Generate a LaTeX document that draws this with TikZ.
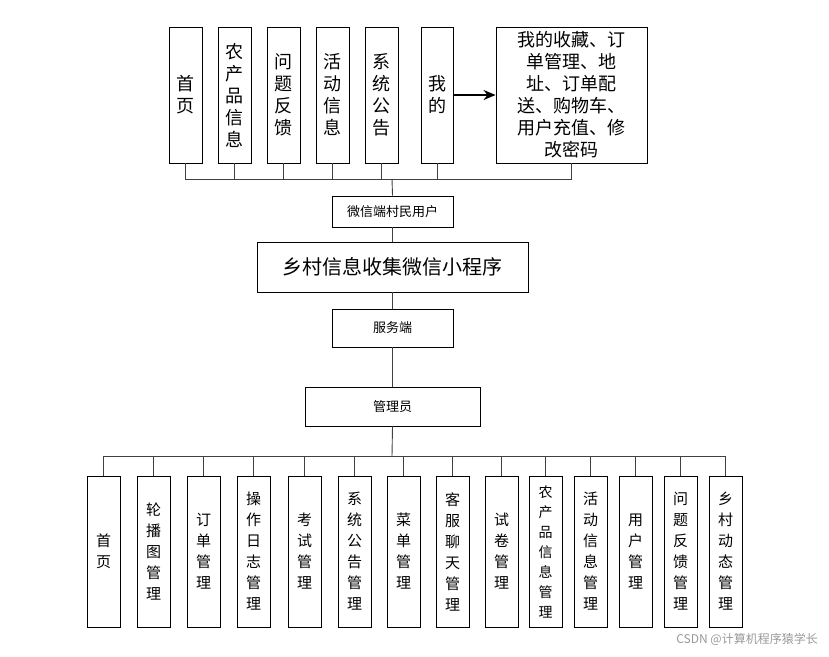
\documentclass[tikz,border=0pt]{standalone}
\usepackage{fontspec}
\setmainfont{Noto Sans CJK SC}
\usetikzlibrary{arrows.meta}
\tikzset{bx/.style={draw=black,line width=0.9pt,inner sep=0pt,align=center,fill=white},
 ln/.style={draw=black!75,line width=0.9pt}}
\newcommand\bx[7][\fontsize{15}{21}\selectfont]{%
 \node[bx,font=#1,minimum width={(#5-#3)*1pt},minimum height={(#6-#4)*1pt}] (#2) at ({(#3+#5)/2},{(#4+#6)/2}) {#7};}
\begin{document}
\begin{tikzpicture}[x=1pt,y=-1pt]
\useasboundingbox (0,0) rectangle (829,656);
% top
\bx[\fontsize{18}{22}\selectfont]{t1}{169}{27}{202}{163}{首\\页}
\bx[\fontsize{18}{22}\selectfont]{t2}{218}{27}{251}{163}{农\\产\\品\\信\\息}
\bx[\fontsize{18}{22}\selectfont]{t3}{267}{27}{300}{163}{问\\题\\反\\馈}
\bx[\fontsize{18}{22}\selectfont]{t4}{316}{27}{349}{163}{活\\动\\信\\息}
\bx[\fontsize{18}{22}\selectfont]{t5}{365}{27}{398}{163}{系\\统\\公\\告}
\bx[\fontsize{18}{22}\selectfont]{t6}{421}{27}{453}{163}{我\\的}
\bx[\fontsize{18}{22}\selectfont]{t7}{496}{27}{647}{163}{我的收藏、订\\单管理、地\\址、订单配\\送、购物车、\\用户充值、修\\改密码}
\draw[line width=1.6pt,-{Stealth[length=12pt,width=10pt]}] (t6.east) -- (t7.west);
\bx[\fontsize{13}{15}\selectfont]{wx}{332}{196}{453}{227}{微信端村民用户}
\bx[\fontsize{20}{24}\selectfont]{main}{257}{242}{528}{292}{乡村信息收集微信小程序}
\bx[\fontsize{13}{15}\selectfont]{fw}{332}{309}{453}{347}{服务端}
\bx[\fontsize{13}{15}\selectfont]{gl}{305}{387}{480}{426}{管理员}
\coordinate (tb) at (392,179);
\draw[ln] (t1.south) |- (t7.south |- tb) -- (t7.south);
\foreach \n in {t2,t3,t4,t5,t6} \draw[ln] (\n.south) -- (\n.south |- tb);
\draw[ln] (tb) -- (wx.north);
\draw[ln] (wx.south) -- (main.north);
\draw[ln] (main.south) -- (fw.north);
\draw[ln] (fw.south) -- (gl.north);
% bottom
\coordinate (bb) at (392,456);
\bx{b1}{87}{476}{120}{627}{首\\页}
\bx{b2}{137}{476}{170}{627}{轮\\播\\图\\管\\理}
\bx{b3}{187}{476}{220}{627}{订\\单\\管\\理}
\bx{b4}{237}{476}{270}{627}{操\\作\\日\\志\\管\\理}
\bx{b5}{288}{476}{321}{627}{考\\试\\管\\理}
\bx{b6}{338}{476}{371}{627}{系\\统\\公\\告\\管\\理}
\bx{b7}{387}{476}{420}{627}{菜\\单\\管\\理}
\bx{b8}{436}{476}{469}{627}{客\\服\\聊\\天\\管\\理}
\bx{b9}{485}{476}{518}{627}{试\\卷\\管\\理}
\bx[\fontsize{14}{20}\selectfont]{b10}{529}{476}{562}{627}{农\\产\\品\\信\\息\\管\\理}
\bx{b11}{574}{476}{607}{627}{活\\动\\信\\息\\管\\理}
\bx{b12}{619}{476}{652}{627}{用\\户\\管\\理}
\bx{b13}{664}{476}{697}{627}{问\\题\\反\\馈\\管\\理}
\bx{b14}{709}{476}{742}{627}{乡\\村\\动\\态\\管\\理}
\draw[ln] (gl.south) -- (bb);
\draw[ln] (b1.north) |- (b14.north |- bb) -- (b14.north);
\foreach \n in {b2,b3,b4,b5,b6,b7,b8,b9,b10,b11,b12,b13} \draw[ln] (\n.north) -- (\n.north |- bb);
\node[anchor=east,text=black!40,font=\fontsize{12}{14}\selectfont,inner sep=0pt] (wm) at (818,639) {CSDN @计算机程序猿学长};
\end{tikzpicture}
\end{document}
